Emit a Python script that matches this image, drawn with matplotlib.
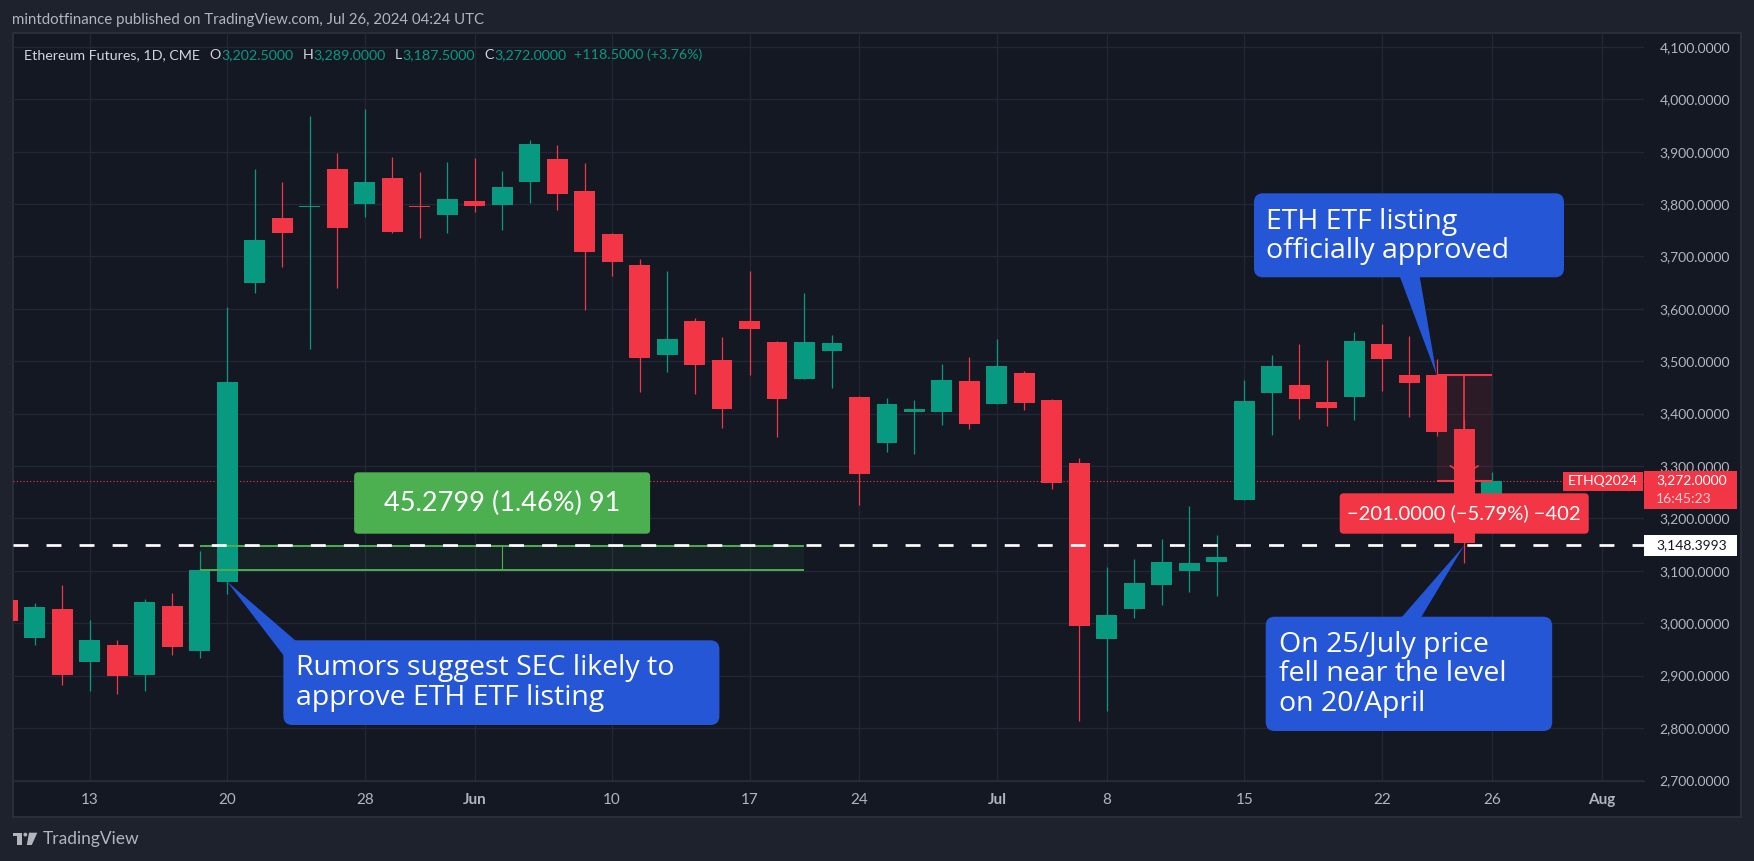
import numpy as np
import matplotlib.pyplot as plt
from matplotlib.patches import FancyBboxPatch, Polygon, Rectangle, Circle

plt.rcParams['font.family'] = ['Lato', 'DejaVu Sans']

# Candles diarios (CME ETH futures)
datas = ['2024-05-08', '2024-05-09', '2024-05-10', '2024-05-13', '2024-05-14', '2024-05-15',
         '2024-05-16', '2024-05-17', '2024-05-20', '2024-05-21', '2024-05-22', '2024-05-23',
         '2024-05-24', '2024-05-28', '2024-05-29', '2024-05-30', '2024-05-31', '2024-06-03',
         '2024-06-04', '2024-06-05', '2024-06-06', '2024-06-07', '2024-06-10', '2024-06-11',
         '2024-06-12', '2024-06-13', '2024-06-14', '2024-06-17', '2024-06-18', '2024-06-20',
         '2024-06-21', '2024-06-24', '2024-06-25', '2024-06-26', '2024-06-27', '2024-06-28',
         '2024-07-01', '2024-07-02', '2024-07-03', '2024-07-05', '2024-07-08', '2024-07-09',
         '2024-07-10', '2024-07-11', '2024-07-12', '2024-07-15', '2024-07-16', '2024-07-17',
         '2024-07-18', '2024-07-19', '2024-07-22', '2024-07-23', '2024-07-24', '2024-07-25',
         '2024-07-26']
abertura = [3045, 2972, 3027, 2926, 2958, 2901, 3033, 2946, 3079, 3650,
            3773, 3794, 3867, 3801, 3850, 3797, 3779, 3806, 3799, 3843,
            3886, 3825, 3743, 3684, 3512, 3577, 3502, 3577, 3537, 3467,
            3520, 3432, 3343, 3404, 3404, 3462, 3419, 3477, 3426, 3305,
            2970, 3027, 3072, 3100, 3117, 3236, 3440, 3455, 3422, 3432,
            3533, 3474, 3473, 3370.5, 3202.5]
maxima = [3065, 3038, 3072, 3006, 2968, 3046, 3058, 3138, 3604, 3867,
          3842, 3968, 3898, 3982, 3890, 3861, 3880, 3888, 3863, 3922,
          3913, 3878, 3745, 3695, 3672, 3583, 3546, 3672, 3538, 3630,
          3550, 3434, 3430, 3426, 3495, 3508, 3542, 3481, 3428, 3315,
          3108, 3122, 3161, 3224, 3168, 3464, 3512, 3533, 3502, 3556,
          3571, 3548, 3505, 3390, 3289]
minima = [2990, 2959, 2882, 2871, 2865, 2871, 2939, 2934, 3056, 3631,
          3679, 3524, 3639, 3776, 3745, 3736, 3745, 3784, 3751, 3803,
          3789, 3597, 3663, 3442, 3480, 3438, 3373, 3474, 3356, 3466,
          3448, 3226, 3327, 3323, 3379, 3371, 3418, 3407, 3257, 2814,
          2833, 3010, 3035, 3060, 3052, 3236, 3360, 3390, 3377, 3387,
          3444, 3394, 3358, 3114, 3187.5]
fechamento = [3004, 3031, 2901, 2968, 2900, 3040, 2955, 3101.4, 3460, 3731,
              3745, 3797, 3755, 3842, 3747, 3794, 3810, 3797, 3833, 3915,
              3820, 3709, 3690, 3507, 3542, 3493, 3409, 3562, 3427, 3537,
              3535, 3285, 3418, 3409, 3464, 3381, 3491, 3421, 3267, 2995,
              3016, 3077, 3117, 3115, 3126, 3424, 3491, 3427, 3411, 3539,
              3505, 3459, 3364, 3153.5, 3272]

datas_futuras = ['2024-07-29', '2024-07-30', '2024-07-31', '2024-08-01']
ticks_datas = ['2024-05-13', '2024-05-20', '2024-05-28', '2024-06-03', '2024-06-10', '2024-06-17',
               '2024-06-24', '2024-07-01', '2024-07-08', '2024-07-15', '2024-07-22', '2024-07-26',
               '2024-08-01']
ticks_rotulos = ['13', '20', '28', 'Jun', '10', '17', '24', 'Jul', '8', '15', '22', '26', 'Aug']
ticks_preco = list(range(2700, 4101, 100))

nivel_abril = 3148.3993     # linha tracejada
medida_verde = 45.2799      # ferramenta de medida (verde)

# Cores
FUNDO = '#1e222d'
PAINEL = '#141823'
GRADE = '#232733'
BORDA = '#2a2e39'
TEXTO = '#b2b5be'
ALTA = '#089981'
BAIXA = '#f23645'
AZUL = '#2556d6'
VERDE = '#4caf50'

W, H = 1754, 861
fig = plt.figure(figsize=(W / 100, H / 100), dpi=100, facecolor=FUNDO)

# moldura do grafico
base_ax = fig.add_axes([0, 0, 1, 1], zorder=0)
base_ax.set_xlim(0, W)
base_ax.set_ylim(H, 0)
base_ax.axis('off')
base_ax.add_patch(Rectangle((12.5, 33), 1741 - 12.5, 816.7 - 33, fc=PAINEL, ec=BORDA, lw=1.5))

# painel de precos
ax = fig.add_axes([12.5 / W, 1 - 781 / H, (1644 - 12.5) / W, (781 - 33) / H], zorder=1)
ax.set_facecolor('none')
todas = datas + datas_futuras
x = np.arange(len(datas))
ax.set_xlim(0.188, 59.54)
ax.set_ylim(2698.6, 4126.6)

ab = np.array(abertura)
fe = np.array(fechamento)
cores = np.where(fe >= ab, ALTA, BAIXA)
ax.vlines(x, minima, maxima, colors=cores, lw=0.9, zorder=3)
ax.bar(x, np.maximum(np.abs(fe - ab), 2.5), bottom=np.minimum(ab, fe), width=0.76,
       color=cores, lw=0, zorder=3)

# eixos
ax.set_xticks([todas.index(d) for d in ticks_datas])
ax.set_xticklabels(ticks_rotulos)
ax.set_yticks(ticks_preco)
ax.set_yticklabels([f'{p:,.4f}' for p in ticks_preco])
ax.yaxis.tick_right()
ax.tick_params(axis='x', length=0, pad=8.5, labelsize=11, labelcolor=TEXTO)
ax.tick_params(axis='y', length=0, pad=62, labelsize=10, labelcolor=TEXTO)
plt.setp(ax.get_yticklabels(), ha='right')
for t in ax.get_xticklabels():
    if not t.get_text().isdigit():
        t.set_fontweight('bold')
ax.grid(True, color=GRADE, lw=1)
for s in ax.spines.values():
    s.set_visible(False)
ax.spines['bottom'].set_visible(True)
ax.spines['bottom'].set_color(BORDA)

# medida verde (17/May -> 20/Jun)
i0, i1 = datas.index('2024-05-17'), datas.index('2024-06-20')
b0 = fechamento[i0]
b1 = b0 + medida_verde
ax.add_patch(Rectangle((i0, b0), i1 - i0, b1 - b0, fc=VERDE, alpha=0.07, lw=0, zorder=2))
ax.hlines([b0, b1], i0, i1, color=VERDE, lw=1.4, zorder=4)
ax.vlines((i0 + i1) / 2, b0, b1, color=VERDE, lw=0.8, zorder=4)

# medida vermelha (24/Jul -> 26/Jul)
j0, j1 = datas.index('2024-07-24'), datas.index('2024-07-26')
topo = abertura[j0]
piso = fechamento[j1]
jm = (j0 + j1) / 2
ax.add_patch(Rectangle((j0, piso), j1 - j0, topo - piso, fc=BAIXA, alpha=0.1, lw=0, zorder=2))
ax.hlines([topo, piso], j0, j1, color=BAIXA, lw=1.5, zorder=4)
ax.vlines(jm, piso, topo, color=BAIXA, lw=1.2, zorder=2.5)
ax.plot([jm - 0.5, jm, jm + 0.5], [3300, 3283, 3300], color=BAIXA, lw=1.2, zorder=2.5)

# linhas de nivel
ax.axhline(nivel_abril, color='white', lw=1.95, dashes=(5.5, 6.7), zorder=5)
ax.axhline(fechamento[-1], color=BAIXA, lw=0.8, dashes=(1, 2), zorder=2.6)

# camada de anotacoes em pixels
top = fig.add_axes([0, 0, 1, 1], zorder=2)
top.set_xlim(0, W)
top.set_ylim(H, 0)
top.axis('off')
top.patch.set_visible(False)


def px(xd, yd):
    dx, dy = ax.transData.transform((xd, yd))
    return dx, H - dy


def balao(caixa, base, ponta, linhas, x_texto, y_linhas):
    x0, y0, x1, y1 = caixa
    top.add_patch(FancyBboxPatch((x0, y0), x1 - x0, y1 - y0,
                                 boxstyle='round,pad=0,rounding_size=9', fc=AZUL, ec='none'))
    top.add_patch(Polygon([base[0], base[1], ponta], closed=True, fc=AZUL, ec='none'))
    for s, yb in zip(linhas, y_linhas):
        top.text(x_texto, yb, s, color='white', fontsize=20.5, va='baseline',
                 family=['Open Sans', 'DejaVu Sans'])


balao((1254, 193.3, 1564, 277.3), [(1399.6, 276), (1419.6, 276)], px(j0, topo),
      ['ETH ETF listing', 'officially approved'], 1266, [229, 258.3])
k = datas.index('2024-05-20')
balao((283.4, 640.3, 719.4, 725), [(284, 656), (296, 641)], px(k, abertura[k]),
      ['Rumors suggest SEC likely to', 'approve ETH ETF listing'], 296.3, [675, 705])
balao((1265.7, 616.7, 1552.2, 731), [(1401, 618), (1420.7, 618)],
      px(datas.index('2024-07-25'), nivel_abril),
      ['On 25/July price', 'fell near the level', 'on 20/April'], 1278.6, [651.7, 680.7, 710.7])

# rotulos das medidas
gx, _ = px((i0 + i1) / 2, b1)
top.add_patch(FancyBboxPatch((gx - 148, 472.3), 296, 61.4,
                             boxstyle='round,pad=0,rounding_size=4', fc=VERDE, ec='none'))
top.text(gx, 503, '45.2799 (1.46%) 91', color='white', fontsize=19.5, ha='center', va='center')
rx, _ = px(jm, piso)
top.add_patch(FancyBboxPatch((rx - 124.5, 493.3), 249, 40.4,
                             boxstyle='round,pad=0,rounding_size=4', fc=BAIXA, ec='none'))
top.text(rx, 513.5, '\u2212201.0000 (\u22125.79%) \u2212402', color='white', fontsize=14.5,
         ha='center', va='center')

# rotulos no eixo de precos
_, yc = px(0, fechamento[-1])
top.add_patch(Rectangle((1563.3, yc - 9), 79.4, 19.7, fc=BAIXA, ec='none'))
top.text(1603, yc + 0.8, 'ETHQ2024', color='white', fontsize=10, ha='center', va='center')
top.add_patch(Rectangle((1644.3, yc - 10), 92.4, 38.7, fc=BAIXA, ec='none'))
top.text(1656, yc, f'{fechamento[-1]:,.4f}', color='white', fontsize=10, va='center')
top.text(1656, yc + 18, '16:45:23', color='#fbd0d4', fontsize=10, va='center')
_, yn = px(0, nivel_abril)
top.add_patch(Rectangle((1644.3, yn - 10.3), 92.4, 21, fc='white', ec='none'))
top.text(1656, yn, f'{nivel_abril:,.4f}', color='#131722', fontsize=10, va='center')

# cabecalho
top.text(12.3, 20, 'mintdotfinance published on TradingView.com, Jul 26, 2024 04:24 UTC',
         color=TEXTO, fontsize=10.8, va='center')
var = fechamento[-1] - fechamento[-2]
pct = var / fechamento[-2] * 100
legenda = [('Ethereum Futures, 1D, CME', '#d1d4dc', 10),
           ('O', '#d1d4dc', 0.5), (f'{abertura[-1]:,.4f}', ALTA, 9),
           ('H', '#d1d4dc', 0.5), (f'{maxima[-1]:,.4f}', ALTA, 9),
           ('L', '#d1d4dc', 0.5), (f'{minima[-1]:,.4f}', ALTA, 9),
           ('C', '#d1d4dc', 0.5), (f'{fechamento[-1]:,.4f}', ALTA, 8),
           (f'{var:+.4f} ({pct:+.2f}%)', ALTA, 0)]
rend = fig.canvas.get_renderer()
xx = 23.6
for s, c, gap in legenda:
    t = top.text(xx, 55, s, color=c, fontsize=10.3, va='center')
    xx += t.get_window_extent(rend).width + gap

# logo TradingView
top.add_patch(Rectangle((12.7, 832.7), 9.3, 3.4, fc=TEXTO, ec='none'))
top.add_patch(Rectangle((17.3, 832.7), 4.7, 12.3, fc=TEXTO, ec='none'))
top.add_patch(Circle((25.3, 834.6), 1.9, fc=TEXTO, ec='none'))
top.add_patch(Polygon([(29, 832.7), (37.3, 832.7), (31.8, 845), (26.8, 845)], closed=True,
                      fc=TEXTO, ec='none'))
top.text(42.7, 839, 'TradingView', color=TEXTO, fontsize=12.5, va='center')

fig.savefig('out.png', dpi=100, facecolor=FUNDO)
